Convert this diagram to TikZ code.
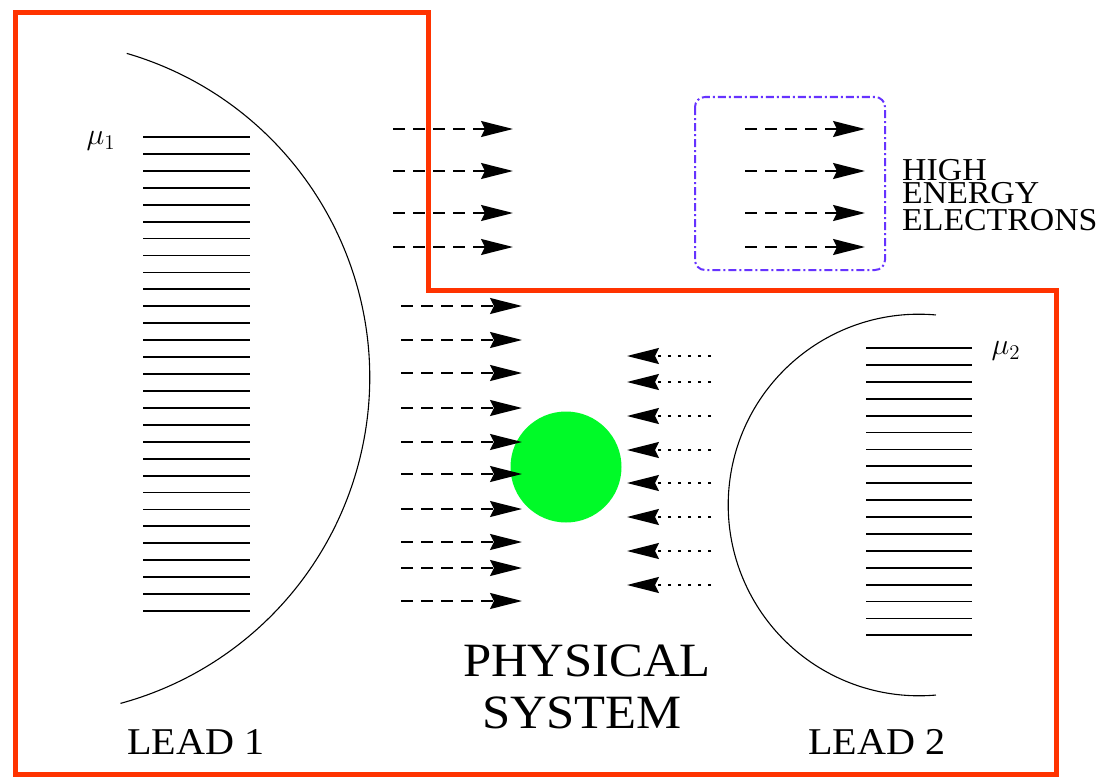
\documentclass[tikz,border=0pt]{standalone}
\usepackage{fontspec}
\setmainfont[FakeStretch=1.06]{Liberation Serif}
\usetikzlibrary{arrows.meta}
\definecolor{framered}{RGB}{255,51,0}
\definecolor{boxblue}{RGB}{102,51,255}
\definecolor{dotgreen}{RGB}{0,250,40}
\begin{document}
\begin{tikzpicture}[x=1bp,y=1bp,
  head/.style={-{Stealth[length=32bp,width=16bp,inset=4bp]}},
  flow/.style={head,line width=1.7bp,dash pattern=on 12bp off 8bp},
  backflow/.style={head,line width=1.7bp,dash pattern=on 3bp off 7bp},
  level/.style={line width=1.8bp},
  leadedge/.style={line width=1.1bp},
  txt/.style={inner sep=0pt,anchor=base},
  leadlabel/.style={txt,font=\fontsize{38}{40}\selectfont},
  energylabel/.style={txt,anchor=base west,font=\fontsize{32}{32}\selectfont},
  mu/.style={inner sep=0pt,scale=1.75,font=\fontsize{17.28}{20}\selectfont}]
\useasboundingbox (0,0) rectangle (1110,-777);

% outline of the system
\draw[framered,line width=5bp,line join=miter]
  (15,-13) -- (428,-13) -- (428,-290) -- (1056,-290) -- (1056,-774) -- (15,-774) -- cycle;

% lead 1: edge and filled levels
\draw[leadedge] (32,-377.5) ++(73.7:337.7) arc[start angle=73.7,end angle=-74.8,radius=337.7];
\foreach \i in {0,...,28}
  \draw[level] (143,{-137-16.93*\i}) -- (250,{-137-16.93*\i});
\node[mu] (mu1) at (101,-141) {$\mu_1$};

% lead 2: edge and filled levels
\draw[leadedge] (919,-505) ++(84.9:190.8) arc[start angle=84.9,end angle=275.1,radius=190.8];
\foreach \i in {0,...,17}
  \draw[level] (866,{-348-16.9*\i}) -- (972,{-348-16.9*\i});
\node[mu] (mu2) at (1006,-351) {$\mu_2$};

% high energy electrons leaving
\foreach \y [count=\k] in {129,171,213,247} {
  \coordinate (hs\k) at (393,-\y);
  \coordinate (ht\k) at (513,-\y);
  \draw[flow] (hs\k) -- (ht\k);
  \coordinate (bs\k) at (745,-\y);
  \coordinate (bt\k) at (865,-\y);
  \draw[flow] (bs\k) -- (bt\k);
}
\draw[boxblue,line width=2bp,rounded corners=10bp,dash pattern=on 8bp off 3bp on 2bp off 3bp]
  (695,-97) rectangle (885,-270);
\node[energylabel] (high) at (902,-180) {HIGH};
\node[energylabel] (energy) at (902,-203.5) {ENERGY};
\node[energylabel] (electrons) at (902,-230) {ELECTRONS};

% the physical system
\node[circle,fill=dotgreen,minimum size=111bp,inner sep=0pt] (sys) at (566,-467) {};

% electrons entering from lead 1
\foreach \y [count=\k] in {306,340,373,408,442,474,509,542,568,601} {
  \coordinate (ls\k) at (401,-\y);
  \coordinate (lt\k) at (522,-\y);
  \draw[flow] (ls\k) -- (lt\k);
}
% electrons entering from lead 2
\foreach \y [count=\k] in {356,382,416,450,483,517,551,585} {
  \coordinate (rs\k) at (711,-\y);
  \coordinate (rt\k) at (627,-\y);
  \draw[backflow] (rs\k) -- (rt\k);
}

\node[txt,font=\fontsize{48}{50}\selectfont] (phys) at (587,-676.7) {PHYSICAL};
\node[txt,font=\fontsize{48}{50}\selectfont] (system) at (582,-728.3) {SYSTEM};
\node[leadlabel] (lead1) at (196,-754.3) {LEAD 1};
\node[leadlabel] (lead2) at (877,-754) {LEAD 2};
\end{tikzpicture}
\end{document}
